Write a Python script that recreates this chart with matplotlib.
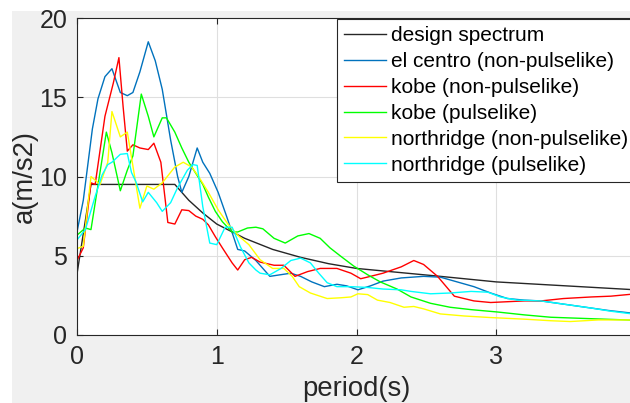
import matplotlib
matplotlib.use('Agg')
import matplotlib.pyplot as plt
from matplotlib.patches import Rectangle

# Response spectra (period in s, acceleration in m/s2)
design_T = [0, 0.1, 0.7, 0.8, 0.9, 1.0, 1.2, 1.4, 1.6, 1.8, 2.0, 2.3, 2.6, 3.0, 3.5, 4.0]
design_a = [3.85, 9.5, 9.5, 8.5, 7.7, 7.0, 6.1, 5.4, 4.9, 4.5, 4.2, 3.95, 3.7, 3.35, 3.1, 2.85]

elc_T = [0, 0.045, 0.11, 0.15, 0.2, 0.25, 0.31, 0.36, 0.4, 0.45, 0.51, 0.56, 0.61, 0.67, 0.72,
         0.75, 0.8, 0.86, 0.9, 0.95, 1.01, 1.07, 1.12, 1.15, 1.2, 1.28, 1.38, 1.53, 1.6, 1.68,
         1.77, 1.86, 1.93, 2.01, 2.1, 2.19, 2.32, 2.48, 2.6, 2.72, 2.84, 2.96, 3.08, 3.2, 3.32,
         3.44, 3.56, 3.68, 3.8, 4.0]
elc_a = [6.5, 8.5, 13.0, 14.9, 16.3, 16.8, 15.3, 15.1, 15.3, 16.6, 18.5, 17.3, 15.5, 12.3, 10.0,
         9.0, 10.0, 11.8, 10.9, 10.2, 9.0, 7.5, 6.2, 5.4, 5.3, 4.7, 3.7, 3.9, 3.7, 3.35,
         3.05, 3.2, 3.1, 2.85, 3.1, 3.4, 3.6, 3.7, 3.65, 3.35, 3.05, 2.65, 2.3, 2.2, 2.15,
         2.0, 1.85, 1.7, 1.55, 1.35]

kobe_np_T = [0, 0.045, 0.1, 0.13, 0.2, 0.26, 0.3, 0.33, 0.36, 0.4, 0.45, 0.51, 0.55, 0.6, 0.65,
             0.7, 0.75, 0.8, 0.85, 0.9, 0.94, 0.99, 1.04, 1.11, 1.15, 1.2, 1.25, 1.31, 1.41, 1.48,
             1.56, 1.65, 1.74, 1.86, 1.96, 2.03, 2.1, 2.19, 2.32, 2.41, 2.48, 2.58, 2.7, 2.84,
             2.96, 3.08, 3.2, 3.32, 3.48, 3.68, 3.82, 4.0]
kobe_np_a = [4.7, 5.5, 9.6, 9.5, 13.8, 15.9, 17.5, 14.4, 11.6, 12.0, 11.8, 11.7, 12.1, 10.9, 7.1,
             7.0, 7.9, 7.85, 7.5, 7.3, 6.95, 6.2, 5.5, 4.55, 4.1, 4.75, 4.9, 4.6, 4.4, 4.4,
             3.7, 4.0, 4.2, 4.2, 3.9, 3.55, 3.7, 3.9, 4.3, 4.7, 4.45, 3.7, 2.45, 2.15,
             2.05, 2.1, 2.15, 2.15, 2.3, 2.4, 2.45, 2.6]

kobe_p_T = [0, 0.06, 0.1, 0.21, 0.25, 0.31, 0.36, 0.4, 0.46, 0.51, 0.55, 0.61, 0.64, 0.7, 0.75,
            0.8, 0.85, 0.9, 0.94, 0.99, 1.04, 1.11, 1.15, 1.22, 1.28, 1.33, 1.41, 1.49, 1.58,
            1.66, 1.74, 1.81, 1.89, 1.98, 2.08, 2.17, 2.29, 2.39, 2.53, 2.67, 2.82, 3.01, 3.2,
            3.39, 3.58, 3.77, 4.0]
kobe_p_a = [6.3, 6.75, 6.65, 12.8, 11.5, 9.1, 10.4, 11.3, 15.2, 13.8, 12.5, 13.7, 13.7, 12.8, 11.8,
            10.9, 10.2, 9.5, 8.7, 7.8, 7.15, 6.5, 6.5, 6.75, 6.8, 6.7, 6.1, 5.8, 6.25,
            6.4, 6.1, 5.5, 4.95, 4.35, 3.8, 3.35, 2.9, 2.4, 2.0, 1.75, 1.6, 1.45, 1.27,
            1.12, 1.06, 1.0, 0.93]

nr_np_T = [0, 0.045, 0.1, 0.165, 0.22, 0.25, 0.31, 0.36, 0.45, 0.5, 0.55, 0.61, 0.7, 0.76, 0.82,
           0.87, 0.94, 1.01, 1.08, 1.15, 1.23, 1.31, 1.4, 1.48, 1.54, 1.59, 1.67, 1.79, 1.89,
           1.96, 2.01, 2.08, 2.15, 2.24, 2.34, 2.41, 2.48, 2.6, 2.77, 2.96, 3.2, 3.39, 3.53,
           3.73, 4.0]
nr_np_a = [5.45, 5.6, 10.0, 9.5, 10.9, 14.1, 12.5, 12.8, 8.0, 9.4, 9.2, 9.6, 10.6, 10.9, 10.6,
           10.0, 9.0, 7.9, 7.0, 6.3, 5.7, 4.75, 4.2, 4.2, 3.7, 3.05, 2.65, 2.3, 2.35,
           2.4, 2.6, 2.55, 2.2, 2.05, 1.75, 1.8, 1.65, 1.33, 1.2, 1.1, 1.0, 0.9, 0.85,
           0.95, 0.95]

nr_p_T = [0, 0.06, 0.13, 0.18, 0.22, 0.25, 0.31, 0.36, 0.39, 0.42, 0.47, 0.51, 0.57, 0.61, 0.67,
          0.72, 0.79, 0.83, 0.86, 0.9, 0.95, 1.0, 1.06, 1.11, 1.17, 1.23, 1.28, 1.31, 1.38,
          1.46, 1.53, 1.6, 1.67, 1.73, 1.79, 1.86, 1.96, 2.08, 2.19, 2.32, 2.39, 2.53, 2.67,
          2.82, 2.94, 3.03, 3.15, 3.32, 3.48, 3.68, 3.82, 4.0]
nr_p_a = [6.0, 6.65, 8.75, 10.1, 10.75, 10.9, 11.4, 11.45, 10.25, 9.7, 8.4, 9.0, 8.35, 7.8, 8.35,
          9.3, 10.4, 10.75, 10.7, 8.1, 5.8, 5.7, 6.8, 6.8, 5.55, 4.55, 4.1, 3.9, 3.8,
          4.2, 4.7, 4.85, 4.55, 3.9, 3.3, 3.05, 3.05, 3.0, 2.9, 2.85, 2.75, 2.6, 2.65,
          2.75, 2.7, 2.4, 2.2, 2.15, 1.95, 1.7, 1.5, 1.3]

plt.rcParams['font.family'] = ['Liberation Sans', 'DejaVu Sans']

W, H = 630, 403
fig = plt.figure(figsize=(W / 100, H / 100), dpi=100, facecolor='#f0f0f0')
# white strips left and top of the screenshot
fig.add_artist(Rectangle((0, 0), 12 / W, 1, transform=fig.transFigure,
                         facecolor='white', edgecolor='none', zorder=-1))
fig.add_artist(Rectangle((0, 1 - 11 / H), 1, 11 / H, transform=fig.transFigure,
                         facecolor='white', edgecolor='none', zorder=-1))

# axes box in pixels: x 77..636, y 18..335 (right edge runs off the image)
ax = fig.add_axes([77 / W, 1 - 335 / H, 559 / W, 317 / H])
ax.set_facecolor('white')

lw = 1.0
ax.plot(design_T, design_a, color='#262626', lw=lw, label='design spectrum')
ax.plot(elc_T, elc_a, color='#0072BD', lw=lw, label='el centro (non-pulselike)')
ax.plot(kobe_np_T, kobe_np_a, color='#FF0000', lw=lw, label='kobe (non-pulselike)')
ax.plot(kobe_p_T, kobe_p_a, color='#00FF00', lw=lw, label='kobe (pulselike)')
ax.plot(nr_np_T, nr_np_a, color='#FFFF00', lw=lw, label='northridge (non-pulselike)')
ax.plot(nr_p_T, nr_p_a, color='#00FFFF', lw=lw, label='northridge (pulselike)')

ax.set_xlim(0, 4)
ax.set_ylim(0, 20)
ax.set_xticks([0, 1, 2, 3, 4])
ax.set_yticks([0, 5, 10, 15, 20])
ax.grid(True, color='#dfdfdf', lw=0.8)
ax.set_axisbelow(True)
for s in ax.spines.values():
    s.set_color('#262626')
    s.set_linewidth(0.8)
ax.tick_params(direction='in', top=True, right=True, length=4, width=0.8,
               colors='#262626', labelsize=18, pad=7)
ax.set_xlabel('period(s)', fontsize=19.8, color='#262626', labelpad=5)
ax.set_ylabel('a(m/s2)', fontsize=19.8, color='#262626', labelpad=1)

leg = ax.legend(loc='upper left', bbox_to_anchor=(337 / W, 1 - 19 / H),
                bbox_transform=fig.transFigure, borderaxespad=0, fontsize=15,
                fancybox=False, framealpha=1, edgecolor='#262626',
                handlelength=2.0, handletextpad=0.25, labelspacing=0.33, borderpad=0.35)
leg.get_frame().set_linewidth(0.8)

fig.savefig('out.png', dpi=100, facecolor=fig.get_facecolor())
